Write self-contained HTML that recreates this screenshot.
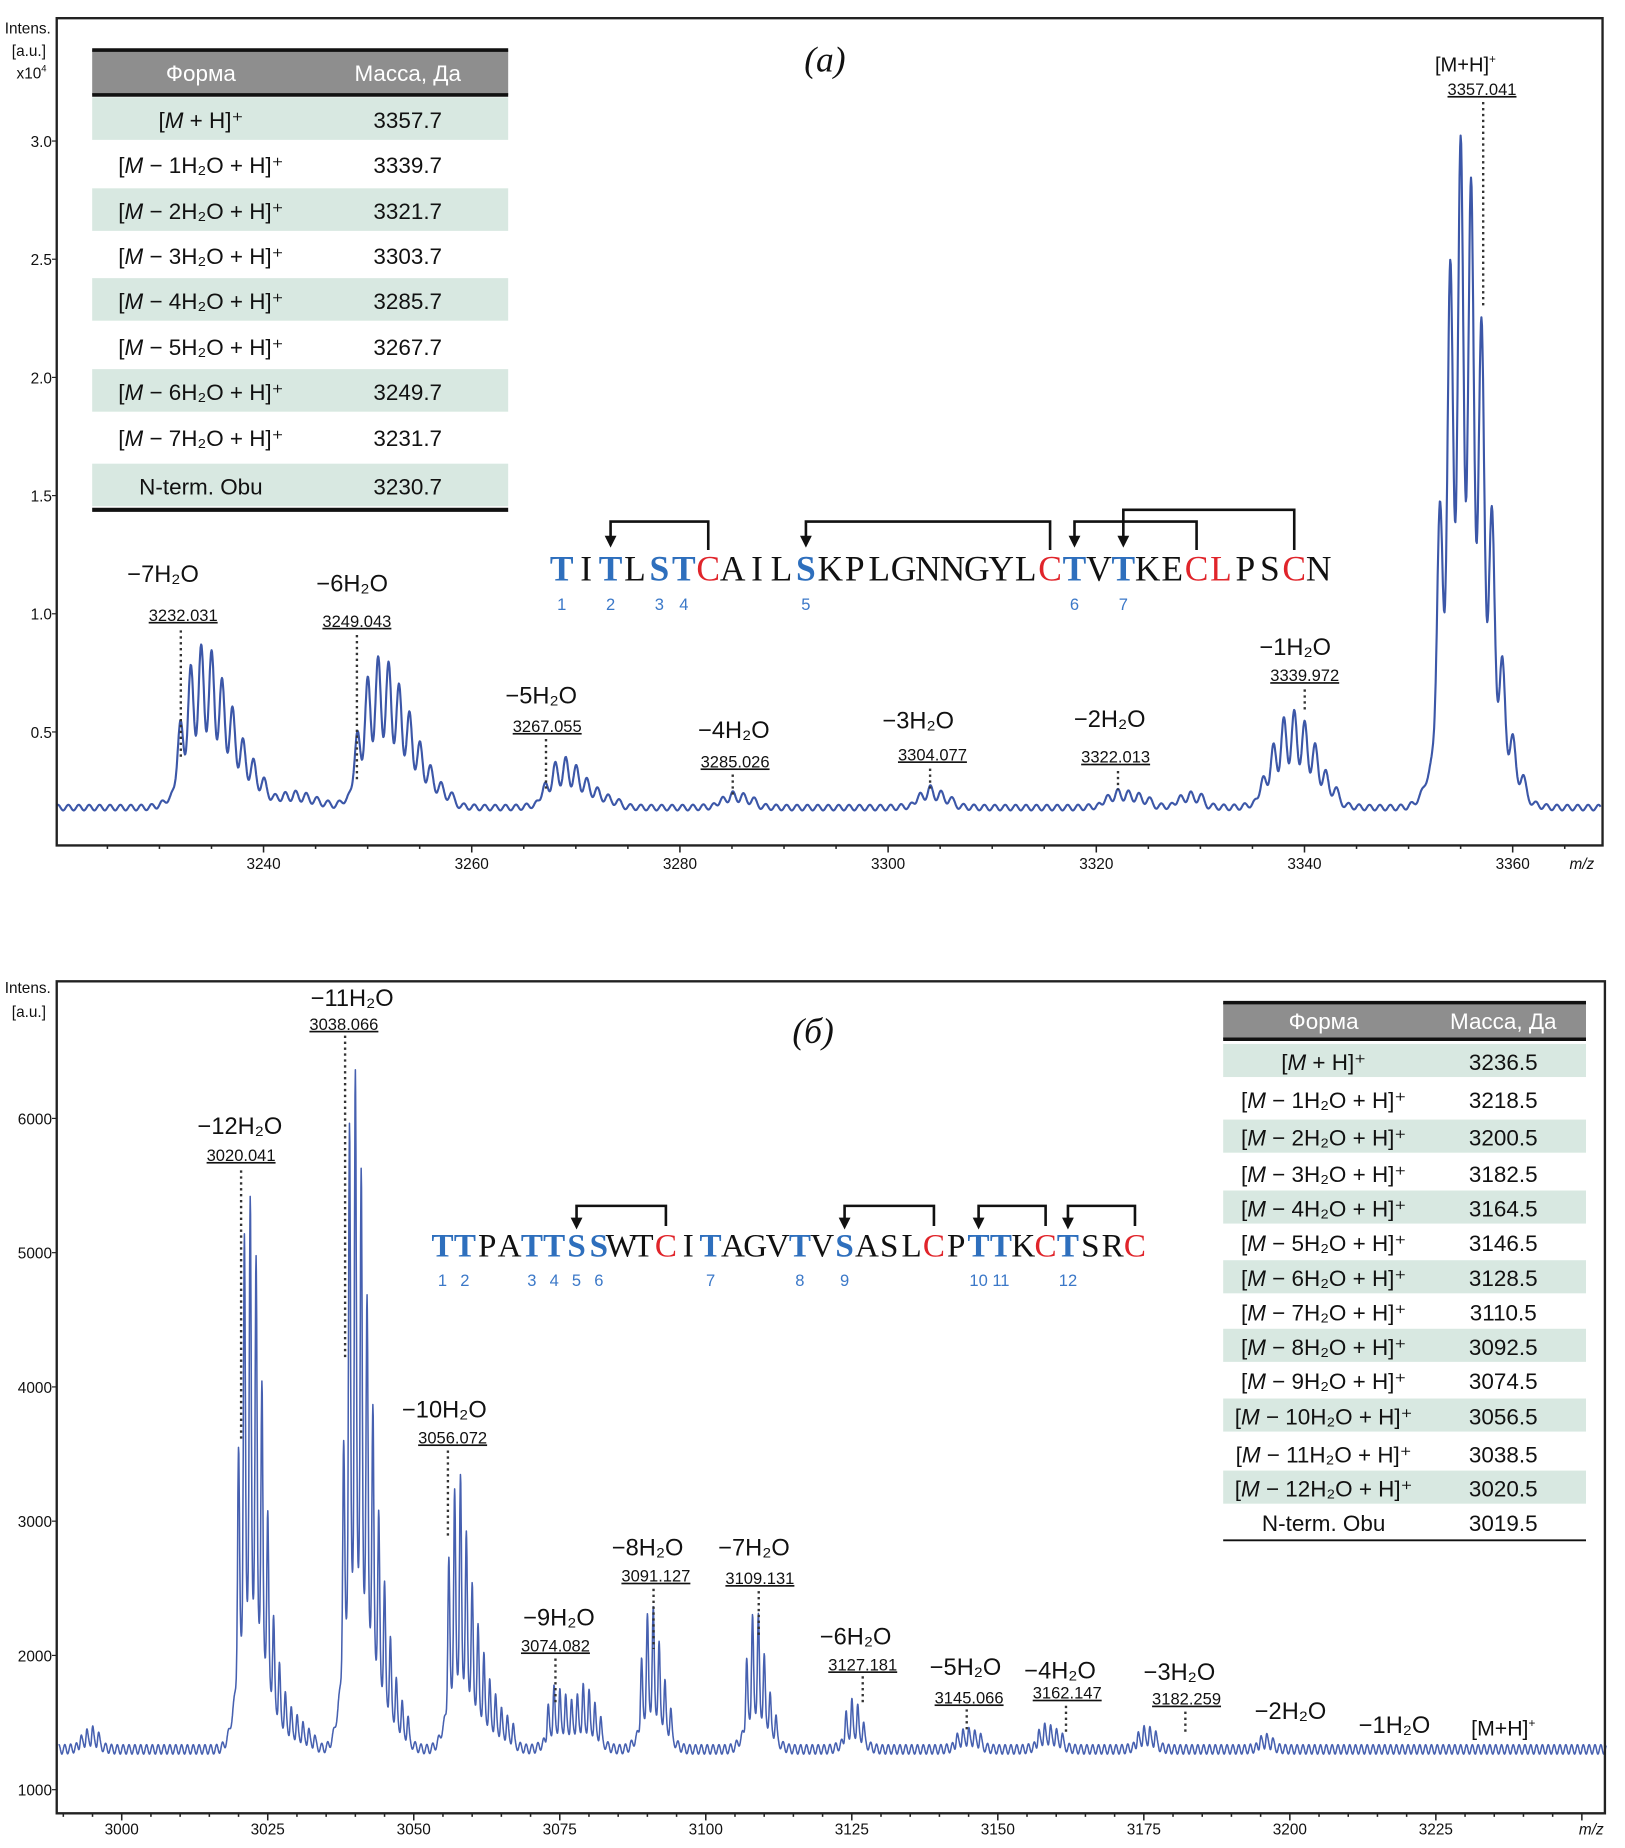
<!DOCTYPE html>
<html><head><meta charset="utf-8">
<style>
html,body{margin:0;padding:0;background:#fff;}
svg{display:block;}
text{font-family:"Liberation Sans",sans-serif;}
.ser{font-family:"Liberation Serif",serif;}
</style></head>
<body>
<svg id="fig" width="1625" height="1848" viewBox="0 0 1375 1563" xmlns="http://www.w3.org/2000/svg">
<g id="panelA"></g>
<g id="panelB"></g>
</svg>
<script>
// ===== Panel A data =====
const xTicksA = [3240, 3260, 3280, 3300, 3320, 3340, 3360];
const yTicksA = [0.5, 1.0, 1.5, 2.0, 2.5, 3.0];
const baseA = 0.18;
const clusterMonoA = [3232, 3241, 3249, 3267, 3284, 3303, 3321, 3328, 3336, 3353];
const clusterHeightsA = [
  [0.55,0.80,0.88,0.85,0.72,0.60,0.46,0.38,0.30],
  [0.22,0.24,0.25,0.24,0.22,0.20],
  [0.50,0.75,0.83,0.80,0.70,0.58,0.45,0.35,0.28,0.24],
  [0.28,0.38,0.40,0.36,0.30,0.26,0.23,0.21],
  [0.22,0.25,0.24,0.22],
  [0.24,0.28,0.25,0.22],
  [0.23,0.26,0.25,0.24,0.22],
  [0.23,0.25,0.24],
  [0.30,0.45,0.57,0.60,0.55,0.45,0.33,0.26],
  [1.45,2.55,3.10,2.88,2.25,1.40,0.75,0.45,0.30]
];
const annLabelsA = ["−7H₂O","−6H₂O","−5H₂O","−4H₂O","−3H₂O","−2H₂O","−1H₂O"];
const annMassA = ["3232.031","3249.043","3267.055","3285.026","3304.077","3322.013","3339.972"];
const tableFormsA = ["[M + H]⁺","[M − 1H₂O + H]⁺","[M − 2H₂O + H]⁺","[M − 3H₂O + H]⁺","[M − 4H₂O + H]⁺","[M − 5H₂O + H]⁺","[M − 6H₂O + H]⁺","[M − 7H₂O + H]⁺","N-term. Obu"];
const tableMassA = ["3357.7","3339.7","3321.7","3303.7","3285.7","3267.7","3249.7","3231.7","3230.7"];

// ===== Panel B data =====
const xTicksB = [3000, 3025, 3050, 3075, 3100, 3125, 3150, 3175, 3200, 3225];
const yTicksB = [1000, 2000, 3000, 4000, 5000, 6000];
const baseB = 1300;
const clusterMonoB = [2993, 3020, 3038, 3056, 3073, 3089, 3107, 3124, 3143, 3157, 3174, 3195];
const clusterHeightsB = [
  [1400,1450,1480,1430],
  [3550,5300,5500,5000,4000,3000,2200,1900,1700,1600,1550,1500,1450,1400],
  [3500,6200,6500,5600,4600,3800,3000,2500,2100,1800,1650,1550],
  [2800,3300,3400,2900,2500,2200,2000,1800,1700,1600,1550,1500],
  [1650,1800,1750,1700,1650,1700,1800,1750,1650,1550],
  [2000,2350,2400,2100,1800,1600],
  [2000,2350,2350,2000,1700,1550],
  [1600,1700,1650,1500],
  [1420,1450,1460,1440,1420],
  [1450,1500,1480,1450,1420],
  [1430,1480,1470,1440],
  [1400,1420,1380]
];
const annLabelsB = ["−12H₂O","−11H₂O","−10H₂O","−9H₂O","−8H₂O","−7H₂O","−6H₂O","−5H₂O","−4H₂O","−3H₂O"];
const annMassB = ["3020.041","3038.066","3056.072","3074.082","3091.127","3109.131","3127.181","3145.066","3162.147","3182.259"];
const tableFormsB = ["[M + H]⁺","[M − 1H₂O + H]⁺","[M − 2H₂O + H]⁺","[M − 3H₂O + H]⁺","[M − 4H₂O + H]⁺","[M − 5H₂O + H]⁺","[M − 6H₂O + H]⁺","[M − 7H₂O + H]⁺","[M − 8H₂O + H]⁺","[M − 9H₂O + H]⁺","[M − 10H₂O + H]⁺","[M − 11H₂O + H]⁺","[M − 12H₂O + H]⁺","N-term. Obu"];
const tableMassB = ["3236.5","3218.5","3200.5","3182.5","3164.5","3146.5","3128.5","3110.5","3092.5","3074.5","3056.5","3038.5","3020.5","3019.5"];

const NS = "http://www.w3.org/2000/svg";
function mk(parent, tag, attrs, txt){
  const e = document.createElementNS(NS, tag);
  for (const k in attrs) e.setAttribute(k, attrs[k]);
  if (txt !== undefined) e.textContent = txt;
  parent.appendChild(e);
  return e;
}
const xA = v => 223 + (v - 3240) * 8.808;
const yA = v => 719 - v * 200;
const xB = v => 103 + (v - 3000) * 4.942;
const yB = v => 1514 - (v - 1000) * 0.1136;

function spectrum(g, monos, heights, base, xs, ys, lo, hi, sn, rip, color, w, name, nw, bw){
  let d = "";
  for (let m = lo; m <= hi; m += 0.05) {
    let v = base + rip * Math.sin(2 * Math.PI * m) ;
    for (let c = 0; c < monos.length; c++) {
      const hs = heights[c];
      for (let i = 0; i < hs.length; i++) {
        const e = hs[i] - base;
        if (e <= 0) continue;
        const dd = m - (monos[c] + i);
        if (Math.abs(dd) > 5) continue;
        v += e * (nw * Math.exp(-0.5 * (dd / sn) * (dd / sn)) + bw * Math.exp(-0.5 * (dd / 1.2) * (dd / 1.2)));
      }
    }
    d += (d ? "L" : "M") + xs(m).toFixed(1) + "," + ys(v).toFixed(1);
  }
  const p = mk(g, "path", {d: d, fill: "none", stroke: color, "stroke-width": w, "stroke-linejoin": "round"});
  
  
}

function txt(g, x, y, s, size, opts){
  const a = Object.assign({x: x, y: y, "font-size": size, fill: "#111"}, opts || {});
  return mk(g, "text", a, s);
}

function annot(g, lab, mass, lx, ly, mx, my, dx, dy1, dy2){
  const l = txt(g, lx, ly, lab, 20, {"text-anchor": "middle"});
  
  
  const n = txt(g, mx, my, mass, 14, {"text-anchor": "middle", "text-decoration": "underline"});
  
  
  const ln = mk(g, "line", {x1: dx, x2: dx, y1: dy1, y2: dy2, stroke: "#333", "stroke-width": 2, "stroke-dasharray": "2,3"});
  
  
}

function table(g, x0, x1, top, headH, rowCenters, rowH, forms, masses, c1, c2, fs, bottomY, thickBottom){
  mk(g, "rect", {x: x0, y: top, width: x1 - x0, height: headH, fill: "#8e8e8e"});
  mk(g, "line", {x1: x0, x2: x1, y1: top, y2: top, stroke: "#111", "stroke-width": 3});
  mk(g, "line", {x1: x0, x2: x1, y1: top + headH, y2: top + headH, stroke: "#111", "stroke-width": 3});
  const h1 = txt(g, c1, top + headH / 2 + 7, "Форма", fs, {"text-anchor": "middle", fill: "#fff"});
  
  
  const h2 = txt(g, c2, top + headH / 2 + 7, "Масса, Да", fs, {"text-anchor": "middle", fill: "#fff"});
  
  
  for (let i = 0; i < forms.length; i++) {
    const cy = rowCenters[i];
    if (i % 2 === 0) mk(g, "rect", {x: x0, y: cy - rowH / 2, width: x1 - x0, height: rowH - 2, fill: "#d8e8e1"});
    const f = forms[i];
    const t = txt(g, c1, cy + 7, "", fs, {"text-anchor": "middle"});
    
    
    if (f.startsWith("[M")) {
      mk(t, "tspan", {}, "[");
      mk(t, "tspan", {"font-style": "italic"}, "M");
      mk(t, "tspan", {}, f.slice(2));
    } else t.textContent = f;
    const m = txt(g, c2, cy + 7, masses[i], fs, {"text-anchor": "middle"});
    
    
  }
  mk(g, "line", {x1: x0, x2: x1, y1: bottomY, y2: bottomY, stroke: "#111", "stroke-width": thickBottom});
}

function sequence(g, seq, x0, cw, y, fs, blue, red, nums, bonds, topYs, tipY){
  for (let i = 0; i < seq.length; i++) {
    const idx = i + 1;
    let col = "#111", wt = "normal";
    if (blue.includes(idx)) { col = "#2e6fbd"; wt = "bold"; }
    if (red.includes(idx)) col = "#e0242a";
    const t = txt(g, x0 + (i + 0.5) * cw, y, seq[i], fs, {"text-anchor": "middle", fill: col, "font-weight": wt, class: "ser"});
    
    
  }
  for (let k = 0; k < blue.length; k++) {
    const t = txt(g, x0 + (blue[k] - 0.5) * cw, y + 25, nums[k], 14, {"text-anchor": "middle", fill: "#3b78c8"});
    
    
  }
  for (let b = 0; b < bonds.length; b++) {
    const xt = x0 + (bonds[b][0] - 0.5) * cw, xc = x0 + (bonds[b][1] - 0.5) * cw, ty = topYs[b];
    const p = mk(g, "path", {d: `M${xc},${y - 26} L${xc},${ty} L${xt},${ty} L${xt},${tipY - 8}`, fill: "none", stroke: "#111", "stroke-width": 2.2});
    
    
    mk(g, "path", {d: `M${xt - 5},${tipY - 10} L${xt + 5},${tipY - 10} L${xt},${tipY} Z`, fill: "#111"});
  }
}

// ===== Build Panel A =====
(function(){
  const g = document.getElementById("panelA");
  spectrum(g, clusterMonoA, clusterHeightsA, baseA, xA, yA, 3220.2, 3368.5, 0.25, 0.012, "#3c57a8", 1.8, "spectrum-a", 0.72, 0.1);
  mk(g, "path", {d: "M48,15 L1356,15 L1356,715 L48,715 Z", fill: "none", stroke: "#222", "stroke-width": 2});
  for (let v = 3225; v <= 3365; v += 5) mk(g, "line", {x1: xA(v), x2: xA(v), y1: 715, y2: v % 20 === 0 ? 721 : 718, stroke: "#222", "stroke-width": 1.3});
  xTicksA.forEach(v => {
    const t = txt(g, xA(v), 735, String(v), 13, {"text-anchor": "middle"});
    
    
  });
  yTicksA.forEach(v => {
    mk(g, "line", {x1: 44, x2: 48, y1: yA(v), y2: yA(v), stroke: "#222"});
    const t = txt(g, 44, yA(v) + 5, v.toFixed(1), 13, {"text-anchor": "end"});
    
    
  });
  const yt = txt(g, 4, 28, "Intens.", 13);  
  txt(g, 10, 47, "[a.u.]", 13);
  const sc = txt(g, 14, 66, "x10", 13); mk(sc, "tspan", {"font-size": 8, dy: -6}, "4");
  const mz = txt(g, 1328, 735, "m/z", 13, {"font-style": "italic"});  
  const pl = txt(g, 698, 60, "(a)", 30, {"text-anchor": "middle", "font-style": "italic", class: "ser"});  
  table(g, 78, 430, 42, 38, [101,139,178,216,254,293,331,370,411], 38, tableFormsA, tableMassA, 170, 345, 19, 431, 3.5);
  const pos = [[138,492,155,525,153,533,640],[298,500,302,530,302,537,660],[458,595,463,619,462,625,668],[621,624,622,649,620,655,672],[777,616,789,643,787,650,668],[939,615,944,645,946,652,668],[1096,554,1104,576,1104,583,600]];
  pos.forEach((p, i) => annot(g, annLabelsA[i], annMassA[i], p[0], p[1], p[2], p[3], p[4], p[5], p[6]));
  const mh = txt(g, 1240, 60, "[M+H]", 17, {"text-anchor": "middle"}); mk(mh, "tspan", {"font-size": 10, dy: -7}, "+");
  annot(g, "", "3357.041", 0, 0, 1254, 80, 1255, 86, 260);
  sequence(g, "TITLSTCAILSKPLGNNGYLCTVTKECLPSCN", 465, 20.66, 491, 30, [1,3,5,6,11,22,24], [7,21,27,28,31], ["1","2","3","4","5","6","7"], [[3,7],[11,21],[22,27],[24,31]], [441,441,441,431], 463);
})();

// ===== Build Panel B =====
(function(){
  const g = document.getElementById("panelB");
  spectrum(g, clusterMonoB, clusterHeightsB, baseB, xB, yB, 2989.2, 3254.2, 0.16, 35, "#4660b0", 1.3, "spectrum-b", 0.72, 0.1);
  mk(g, "path", {d: "M48,830 L1358,830 L1358,1534 L48,1534 Z", fill: "none", stroke: "#222", "stroke-width": 2});
  for (let v = 2990; v <= 3250; v += 5) mk(g, "line", {x1: xB(v), x2: xB(v), y1: 1534, y2: v % 25 === 0 ? 1540 : 1537, stroke: "#222", "stroke-width": 1.3});
  xTicksB.forEach(v => {
    const t = txt(g, xB(v), 1552, String(v), 13, {"text-anchor": "middle"});
    
    
  });
  yTicksB.forEach(v => {
    mk(g, "line", {x1: 44, x2: 48, y1: yB(v), y2: yB(v), stroke: "#222"});
    const t = txt(g, 44, yB(v) + 5, String(v), 13, {"text-anchor": "end"});
    
    
  });
  const yt = txt(g, 4, 840, "Intens.", 13);  
  txt(g, 10, 860, "[a.u.]", 13);
  const mz = txt(g, 1336, 1552, "m/z", 13, {"font-style": "italic"});  
  const pl = txt(g, 688, 882, "(б)", 30, {"text-anchor": "middle", "font-style": "italic", class: "ser"});  
  table(g, 1035, 1342, 848, 31, [898,930,962,993,1022,1051,1081,1110,1139,1168,1198,1230,1259,1288], 30, tableFormsB, tableMassB, 1120, 1272, 19, 1303, 1.5);
  const pos = [[203,959,204,982,204,990,1220],[298,851,291,871,292,876,1150],[376,1199,383,1221,379,1227,1300],[473,1375,470,1397,470,1403,1440],[548,1316,555,1338,553,1344,1395],[638,1316,643,1340,642,1346,1385],[724,1391,730,1413,730,1418,1440],[817,1417,820,1441,818,1446,1465],[897,1420,903,1437,902,1443,1465],[998,1421,1004,1442,1003,1448,1468]];
  pos.forEach((p, i) => annot(g, annLabelsB[i], annMassB[i], p[0], p[1], p[2], p[3], p[4], p[5], p[6]));
  ["−2H₂O","−1H₂O"].forEach((s, i) => {
    const t = txt(g, [1092,1180][i], [1454,1466][i], s, 20, {"text-anchor": "middle"});
    
    
  });
  const mh = txt(g, 1272, 1468, "[M+H]", 18, {"text-anchor": "middle"}); mk(mh, "tspan", {"font-size": 10, dy: -7}, "+");
  sequence(g, "TTPATTSSWTCITAGVTVSASLCPTTKCTSRC", 365, 18.9, 1063, 28, [1,2,5,6,7,8,13,17,19,25,26,29], [11,23,28,32], ["1","2","3","4","5","6","7","8","9","10","11","12"], [[7,11],[19,23],[25,28],[29,32]], [1020,1020,1020,1020], 1040);
})();
</script>
</body></html>
